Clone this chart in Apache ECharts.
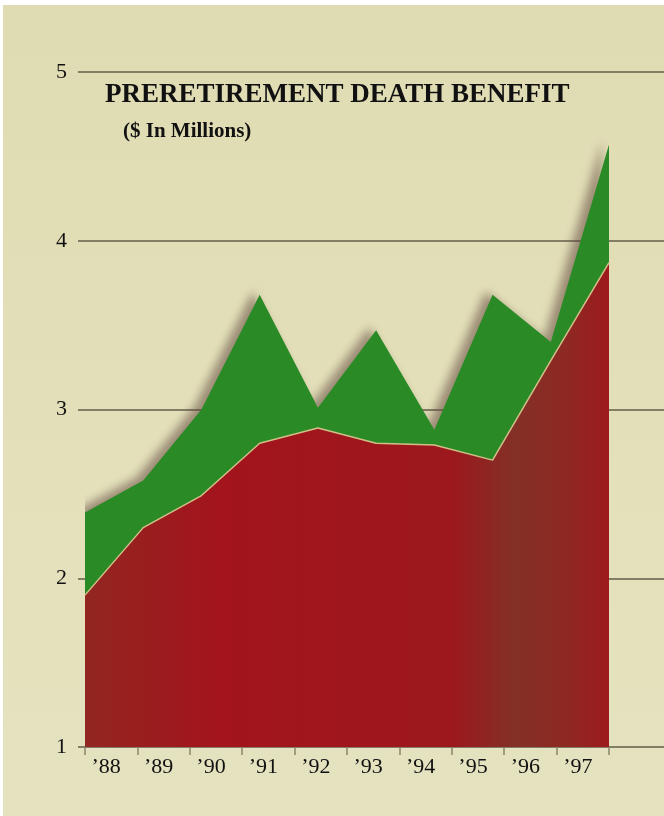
<!DOCTYPE html>
<html><head><meta charset="utf-8">
<script src="https://cdn.jsdelivr.net/npm/echarts@6/dist/echarts.min.js"></script>
<style>html,body{margin:0;padding:0;background:#fff}#c{width:664px;height:816px}</style>
</head><body><div id="c"></div>
<script>
const years = ['’88','’89','’90','’91','’92','’93','’94','’95','’96','’97'];
const redValues = [1.9, 2.3, 2.49, 2.8, 2.89, 2.8, 2.79, 2.7, 3.29, 3.87];
const totalValues = [2.39, 2.58, 3.0, 3.68, 3.01, 3.47, 2.88, 3.68, 3.4, 4.57];
const yMin = 1, yMax = 5, yStep = 1;
const titleText = 'PRERETIREMENT DEATH BENEFIT';
const subtitleText = '($ In Millions)';

const serif = '"Liberation Serif", "DejaVu Serif", serif';
const chart = echarts.init(document.getElementById('c'));
const gridTop = 72, gridBottom = 69;
chart.setOption({
  animation: false,
  graphic: [
    { type: 'rect', z: -10, silent: true, shape: { x: 3, y: 5, width: 661, height: 811 },
      style: { fill: new echarts.graphic.LinearGradient(0, 0, 0, 1, [
        { offset: 0, color: '#dfdbb2' }, { offset: 0.5, color: '#e3e0b9' }, { offset: 1, color: '#e5e2c0' }]) } },
    { type: 'text', z: 10, left: 105, top: 82,
      style: { text: titleText, font: 'bold 27px ' + serif, fill: '#111' } },
    { type: 'text', z: 10, left: 123, top: 121,
      style: { text: subtitleText, font: 'bold 21px ' + serif, fill: '#111' } }
  ],
  grid: [
    { left: 78, right: 0, top: gridTop, bottom: gridBottom },
    { left: 85, right: 55, top: gridTop, bottom: gridBottom }
  ],
  xAxis: [
    { type: 'category', gridIndex: 0, data: years, show: false },
    { type: 'category', gridIndex: 1, data: years, boundaryGap: true, position: 'bottom',
      axisLine: { show: false },
      axisTick: { show: true, length: 8, lineStyle: { color: '#8a856c', width: 1.5 } },
      axisLabel: { fontFamily: serif, fontSize: 22, color: '#111', margin: 9, padding: [0, 10, 0, 0] },
      splitLine: { show: false } },
    { type: 'category', gridIndex: 1, data: years, boundaryGap: false, show: false }
  ],
  yAxis: [
    { type: 'value', gridIndex: 0, min: yMin, max: yMax, interval: yStep,
      axisLine: { show: false }, axisTick: { show: false },
      axisLabel: { fontFamily: serif, fontSize: 22, color: '#111', margin: 11, padding: [6, 0, 0, 0] },
      splitLine: { show: true, showMinLine: true, showMaxLine: true,
        lineStyle: { color: '#827d64', width: 2 } } },
    { type: 'value', gridIndex: 1, min: yMin, max: yMax, interval: yStep, show: false,
      splitLine: { show: false } }
  ],
  series: [
    { name: 'Total', type: 'line', xAxisIndex: 2, yAxisIndex: 1, data: totalValues,
      symbol: 'none', z: 3, lineStyle: { width: 0 },
      areaStyle: { origin: 'start', color: '#2a8a26', opacity: 1,
        shadowColor: 'rgba(95,70,60,0.55)', shadowBlur: 10, shadowOffsetX: -7, shadowOffsetY: -3 } },
    { name: 'Red', type: 'line', xAxisIndex: 2, yAxisIndex: 1, data: redValues,
      symbol: 'none', z: 4, lineStyle: { width: 1.5, color: '#d2bf88' },
      areaStyle: { origin: 'start', opacity: 1,
        color: new echarts.graphic.LinearGradient(0, 0, 1, 0, [
          { offset: 0, color: '#922620' }, { offset: 0.25, color: '#a3141c' },
          { offset: 0.7, color: '#9c181d' }, { offset: 0.82, color: '#833027' },
          { offset: 0.92, color: '#8e2822' }, { offset: 1, color: '#9e1a1d' }]) } }
  ]
});
</script></body></html>
